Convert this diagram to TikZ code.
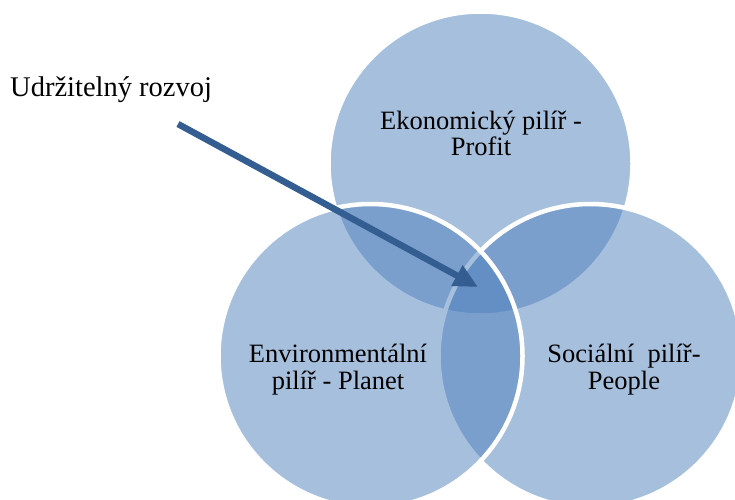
\documentclass[tikz,border=0pt]{standalone}
\usepackage{fontspec}
\setmainfont{Liberation Serif}
\usetikzlibrary{arrows.meta}
\definecolor{accentblue}{HTML}{4F81BD}
\definecolor{arrowblue}{HTML}{345D91}
\tikzset{
  venn/.style={fill=accentblue, fill opacity=0.5, draw=white, draw opacity=1, line width=4.5pt},
  circtext/.style={align=center, font=\fontsize{26.5}{26.5}\selectfont, inner sep=0pt, text=black},
  labeltext/.style={font=\fontsize{28.5}{30}\selectfont, inner sep=0pt, text=black},
  bigarrow/.style={draw=arrowblue, line width=6.5pt, -{Triangle[length=24pt, width=22pt]}}
}
\begin{document}
\begin{tikzpicture}[x=1pt, y=-1pt]
\clip (0,0) rectangle (735,499);
\fill[white] (0,0) rectangle (735,499);
\coordinate (ctop) at (480.5,163.5);
\coordinate (cright) at (590.5,356);
\coordinate (cleft) at (370.5,356);
\path[venn] (ctop) circle[radius=152pt];
\path[venn] (cright) circle[radius=152pt];
\path[venn] (cleft) circle[radius=152pt];
\node[circtext, anchor=base] (eko) at (481,155.5) {Ekonomický pilíř -\\Profit};
\node[circtext, anchor=base] (env) at (338,389) {Environmentální\\pilíř - Planet};
\node[circtext, anchor=base] (soc) at (624,389) {Sociální~~pilíř-\\People};
\node[labeltext, anchor=base west] (ur) at (10,96) {Udržitelný rozvoj};
\coordinate (astart) at (178,124);
\coordinate (atip) at (478,287);
\draw[bigarrow] (astart) -- (atip);
\end{tikzpicture}
\end{document}
